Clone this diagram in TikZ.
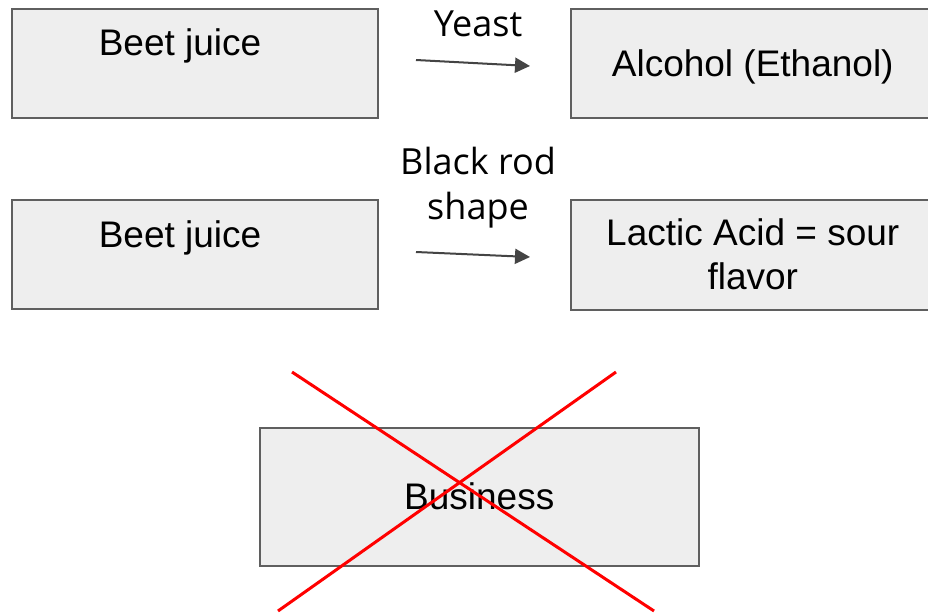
\documentclass[tikz,border=0pt]{standalone}
\usepackage{fontspec}
\setmainfont{Liberation Sans}
\newfontfamily\notefont{Open Sans}
\usetikzlibrary{positioning, arrows.meta}
\definecolor{boxfill}{HTML}{EEEEEE}
\definecolor{boxline}{HTML}{5F5F5F}
\definecolor{arrowgray}{HTML}{444444}
\tikzset{
  >={Triangle[length=15pt, width=15pt]},
  box/.style={draw=boxline, fill=boxfill, line width=1.5pt, inner sep=0pt,
    anchor=north west, minimum width=366pt, minimum height=109pt,
    font=\fontsize{37}{44}\selectfont, align=center},
  boxtext/.style={font=\fontsize{37}{44}\selectfont, inner sep=0pt, anchor=base},
  note/.style={font=\notefont\fontsize{36}{45}\selectfont, align=center, inner sep=0pt},
  flow/.style={->, draw=arrowgray, line width=2pt},
  cross/.style={draw=red, line width=3pt},
}
\begin{document}
\begin{tikzpicture}[x=1pt, y=-1pt]
  \useasboundingbox (0,0) rectangle (928,613);
  \clip (0,0) rectangle (928,613);

  % boxes
  \node[box] (juiceA) at (11,8) {};
  \node[boxtext] (juiceAtxt) at (180,55) {Beet juice};
  \node[box, minimum width=364pt, text depth=0pt] (alcohol) at (570,8) {Alcohol (Ethanol)};
  \node[box] (juiceB) at (11,199) {};
  \node[boxtext] (juiceBtxt) at (180,247) {Beet juice};
  \node[box, minimum width=364pt, minimum height=110pt] (lactic) at (570,199) {Lactic Acid = sour\\flavor};
  \node[box, minimum width=439pt, minimum height=138pt] (business) at (259,427) {Business};

  % arrows
  \coordinate (yeastFrom) at (416,60);
  \coordinate (yeastTo) at (530,66);
  \draw[flow] (yeastFrom) -- (yeastTo);
  \node[note] (yeast) at (478,24) {Yeast};

  \coordinate (rodFrom) at (416,252);
  \coordinate (rodTo) at (530,257);
  \draw[flow] (rodFrom) -- (rodTo);
  \node[note] (rod) at (478,188) {Black rod\\shape};

  % cross
  \coordinate (crossA) at (292,372);
  \coordinate (crossB) at (654,611);
  \coordinate (crossC) at (616,372);
  \coordinate (crossD) at (278,611);
  \draw[cross] (crossA) -- (crossB) (crossC) -- (crossD);
\end{tikzpicture}
\end{document}
